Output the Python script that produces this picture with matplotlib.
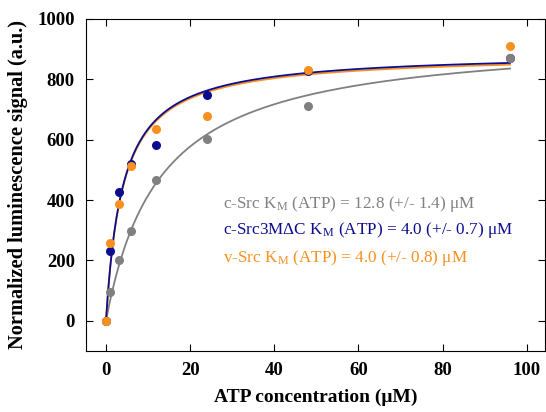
import numpy as np
import matplotlib.pyplot as plt

plt.rcParams["font.family"] = ["Liberation Serif", "DejaVu Serif"]
plt.rcParams["mathtext.fontset"] = "stix"

# ATP concentration (uM)
atp = [0, 1, 3, 6, 12, 24, 48, 96]

# normalized luminescence signal (a.u.)
csrc = [0, 95, 202, 297, 465, 601, 712, 870]
csrc3m = [0, 230, 426, 520, 582, 747, 828, 870]
vsrc = [0, 258, 388, 513, 637, 679, 830, 909]

# Michaelis-Menten fit parameters (Km in uM, Vmax in a.u.)
km_csrc, vmax_csrc = 12.8, 947
km_csrc3m, vmax_csrc3m = 4.0, 890
km_vsrc, vmax_vsrc = 4.0, 884

grey = "#808080"
blue = "#0c0c8c"
orange = "#f7901e"


def mm(s, vmax, km):
    return vmax * s / (km + s)


fig = plt.figure(figsize=(5.46, 4.12), dpi=100)
ax = fig.add_axes([0.1575, 0.148, 0.8405, 0.806])

s = np.linspace(0, 96, 400)
ax.plot(s, mm(s, vmax_csrc, km_csrc), color=grey, lw=1.3, zorder=1)
ax.plot(s, mm(s, vmax_vsrc, km_vsrc), color=orange, lw=1.3, zorder=1)
ax.plot(s, mm(s, vmax_csrc3m, km_csrc3m), color=blue, lw=1.3, zorder=1)

ax.plot(atp, csrc3m, "o", color=blue, ms=6.5, mec="none", zorder=2)
ax.plot(atp, csrc, "o", color=grey, ms=6.5, mec="none", zorder=2)
ax.plot(atp, vsrc, "o", color=orange, ms=6.5, mec="none", zorder=2)

ax.text(27.8, 375, r"c-Src K$_\mathregular{M}$ (ATP) = 12.8 (+/- 1.4) μM",
        color=grey, fontsize=12.3)
ax.text(27.8, 286, r"c-Src3MΔC K$_\mathregular{M}$ (ATP) = 4.0 (+/- 0.7) μM",
        color=blue, fontsize=12.3)
ax.text(27.8, 196, r"v-Src K$_\mathregular{M}$ (ATP) = 4.0 (+/- 0.8) μM",
        color=orange, fontsize=12.3)

ax.set_xlim(-4.75, 104.3)
ax.set_ylim(-100, 1000)
ax.set_xticks(range(0, 101, 20))
ax.set_yticks(range(0, 1001, 200))
ax.tick_params(direction="in", top=True, right=True, labelsize=13.5,
               length=5, pad=8)
for lab in ax.get_xticklabels() + ax.get_yticklabels():
    lab.set_fontweight("bold")

ax.set_xlabel("ATP concentration (μM)", fontsize=14, fontweight="bold",
              labelpad=7)
ax.set_ylabel("Normalized luminescence signal (a.u.)", fontsize=14.7,
              fontweight="bold", labelpad=7)

fig.savefig("out.png", dpi=100)
